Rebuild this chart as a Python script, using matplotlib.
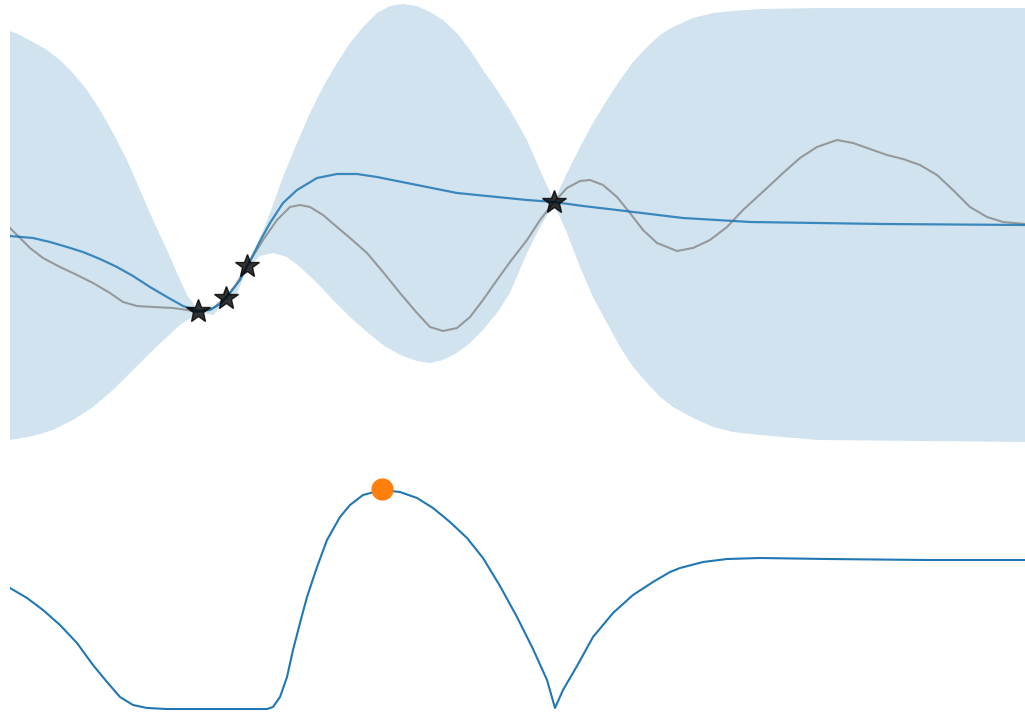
import numpy as np
import matplotlib
matplotlib.use("Agg")
import matplotlib.pyplot as plt

# values, arbitrary units (no axes are shown)

# GP posterior mean
mean_x = [0, 23, 40, 57, 73, 90, 107, 123, 140, 157, 173, 188, 200, 210, 220,
          230, 237, 240, 250, 260, 273, 287, 307, 327, 347, 367, 387, 407, 427,
          447, 467, 487, 517, 544, 573, 607, 640, 673, 707, 740, 807, 873, 1015]
mean_y = [-13, -15, -19, -24, -29, -36, -44, -53, -64, -74, -83, -88, -87, -81,
          -70, -57, -43, -38, -18, 0, 20, 33, 45, 49, 49, 46, 42, 38, 34, 30, 28,
          26, 23, 21, 17, 13, 9, 5, 3, 1, 0, -1, -2]

# true objective
true_x = [0, 10, 20, 33, 50, 67, 83, 100, 113, 127, 143, 163, 177, 188, 203,
          216, 227, 240, 253, 267, 280, 290, 300, 313, 327, 340, 357, 373, 390,
          407, 420, 433, 447, 460, 473, 487, 500, 517, 530, 544, 557, 570, 580,
          593, 607, 620, 633, 647, 667, 683, 700, 717, 733, 757, 773, 790, 807,
          827, 843, 860, 877, 893, 910, 927, 943, 960, 977, 993, 1015]
true_y = [-5, -15, -25, -35, -44, -52, -60, -70, -79, -83, -84, -85, -87, -89,
          -85, -75, -60, -38, -17, 3, 16, 18, 16, 8, -4, -15, -30, -49, -70, -90,
          -104, -108, -105, -94, -77, -57, -39, -17, 3, 21, 35, 42, 43, 38, 26,
          10, -7, -20, -28, -25, -17, -4, 13, 35, 50, 65, 76, 83, 80, 74, 68, 64,
          58, 48, 33, 16, 6, 1, -1]

# confidence band edges
upper_x = [0, 10, 23, 37, 50, 63, 77, 90, 103, 117, 130, 143, 157, 167, 177,
           185, 188, 203, 216, 227, 237, 247, 260, 273, 287, 300, 313, 327, 340,
           353, 367, 380, 393, 407, 420, 433, 447, 460, 473, 487, 500, 517, 530,
           544, 557, 570, 583, 597, 610, 623, 637, 650, 663, 683, 703, 723, 750,
           807, 1015]
upper_y = [192, 188, 181, 173, 163, 150, 133, 113, 90, 63, 33, 3, -27, -50, -72,
           -83, -87, -85, -71, -63, -41, -23, 10, 46, 80, 110, 136, 160, 180, 196,
           210, 217, 219, 217, 211, 203, 190, 173, 153, 133, 113, 83, 53, 22, 50,
           76, 100, 123, 143, 161, 176, 188, 196, 205, 210, 212, 214, 215, 215]
lower_x = [0, 23, 43, 63, 83, 103, 123, 140, 157, 170, 182, 188, 203, 216, 227,
           237, 243, 250, 263, 277, 290, 307, 323, 340, 357, 373, 390, 407, 420,
           433, 447, 460, 473, 487, 500, 517, 530, 544, 557, 570, 583, 597, 610,
           623, 637, 650, 663, 683, 703, 723, 750, 807, 1015]
lower_y = [-217, -213, -207, -197, -184, -167, -147, -130, -114, -102, -94, -89,
           -92, -79, -71, -45, -40, -33, -30, -34, -44, -60, -77, -94, -109, -122,
           -132, -138, -140, -137, -130, -120, -107, -90, -70, -30, -4, 19, -10,
           -44, -74, -100, -124, -144, -160, -174, -184, -195, -204, -209, -212,
           -217, -219]

# observations
obs_x = [188, 216, 237, 544]
obs_y = [-88, -75, -43, 21]

# acquisition function
acq_x = [0, 17, 33, 50, 67, 83, 97, 110, 123, 137, 157, 257, 263, 270, 277, 283,
         290, 297, 307, 317, 330, 340, 353, 372, 390, 407, 423, 440, 457, 473,
         490, 507, 523, 537, 545, 553, 567, 583, 603, 623, 643, 660, 670, 693,
         717, 750, 817, 917, 1015]
acq_y = [121, 111, 99, 84, 66, 44, 27, 12, 4, 1, 0, 0, 2, 12, 32, 59, 86, 112,
         142, 169, 192, 204, 214, 219, 217, 211, 201, 187, 171, 151, 123, 92, 60,
         29, 1, 19, 43, 72, 96, 114, 127, 137, 141, 147, 150, 151, 150, 149, 149]
next_x = 372
next_y = 220

fig = plt.figure(figsize=(10.25, 7.12), dpi=100)

# top panel: posterior
ax = fig.add_axes([10 / 1025, 1 - 450 / 712, 1015 / 1025, 450 / 712])
band_x = np.concatenate([upper_x, lower_x[::-1]])
band_y = np.concatenate([upper_y, lower_y[::-1]])
ax.fill(band_x, band_y, color="C0", alpha=0.2, lw=0)
ax.plot(true_x, true_y, color="gray", alpha=0.75, lw=1.5)
ax.plot(mean_x, mean_y, color="C0", alpha=0.85, lw=1.6)
ax.plot(obs_x, obs_y, "*", color="k", alpha=0.8, ms=18)
ax.set_xlim(0, 1015)
ax.set_ylim(-227, 223)
ax.axis("off")

# bottom panel: acquisition
ax2 = fig.add_axes([10 / 1025, 0, 1015 / 1025, 242 / 712])
ax2.plot(acq_x, acq_y, color="C0", lw=1.5)
ax2.plot(next_x, next_y, "o", color="C1", ms=15)
ax2.set_xlim(0, 1015)
ax2.set_ylim(-3, 239)
ax2.axis("off")

fig.savefig("out.png", dpi=100)
